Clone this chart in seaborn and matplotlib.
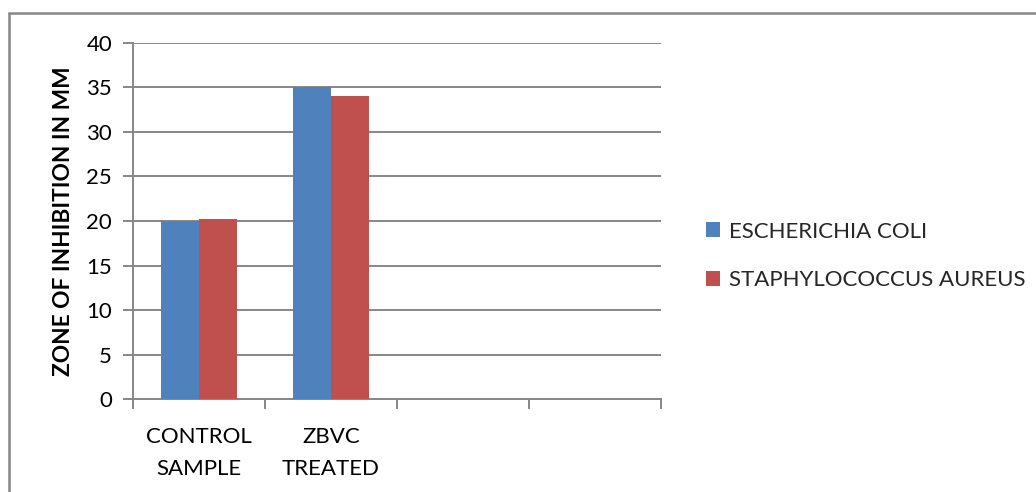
import matplotlib
matplotlib.use("Agg")
import matplotlib.pyplot as plt
from matplotlib.lines import Line2D
from matplotlib.patches import Patch
import seaborn as sns
import pandas as pd

# Zone of inhibition (mm) per sample and organism
categories = ["CONTROL\nSAMPLE", "ZBVC\nTREATED", " ", "  "]
samples = ["CONTROL\nSAMPLE", "ZBVC\nTREATED"]
e_coli = [20.0, 35.0]
s_aureus = [20.2, 34.0]
series_names = ["ESCHERICHIA COLI", "STAPHYLOCOCCUS AUREUS"]
series_colors = ["#4F81BD", "#C0504D"]
y_ticks = [0, 5, 10, 15, 20, 25, 30, 35, 40]

df = pd.DataFrame({
    "sample": samples * 2,
    "organism": [series_names[0]] * len(samples) + [series_names[1]] * len(samples),
    "zone": e_coli + s_aureus,
})

sns.set_theme(style="white")
plt.rcParams["font.family"] = ["Lato", "DejaVu Sans"]

W, H = 1036, 492
fig = plt.figure(figsize=(W / 100, H / 100), dpi=100)
ax = fig.add_axes([133 / W, 1 - 399.3 / H, 528 / W, 356.6 / H])

grid_c = "#878787"
sns.barplot(data=df, x="sample", y="zone", hue="organism", order=categories,
            hue_order=series_names, palette=series_colors, width=0.57,
            saturation=1, errorbar=None, ax=ax, legend=False, zorder=3,
            linewidth=0)

ax.set_xlim(-0.5, len(categories) - 0.5)
ax.set_ylim(0, 40)
ax.set_yticks(y_ticks)
ax.set_yticklabels([str(v) for v in y_ticks], fontsize=16, color="#000000")
ax.yaxis.grid(True, color=grid_c, linewidth=1.4, zorder=0)
ax.set_axisbelow(True)

# category labels at centres, tick marks at category boundaries
ax.set_xticks(range(len(categories)))
ax.set_xticklabels(categories, fontsize=16, color="#000000", linespacing=1.75)
ax.tick_params(axis="x", which="major", length=0, pad=20)
ax.set_xticks([i - 0.5 for i in range(len(categories) + 1)], minor=True)
ax.tick_params(axis="x", which="minor", length=7, width=1.4, color=grid_c,
               direction="out", bottom=True)
ax.tick_params(axis="y", which="major", length=7, width=1.4, color=grid_c,
               direction="out", left=True, pad=8)

for side in ["top", "right"]:
    ax.spines[side].set_visible(False)
for side in ["left", "bottom"]:
    ax.spines[side].set_color(grid_c)
    ax.spines[side].set_linewidth(1.4)

ax.set_xlabel("")
ax.set_ylabel("ZONE OF INHIBITION IN MM", fontsize=16.3, fontweight="bold",
              color="#000000", labelpad=9)

handles = [Patch(facecolor=c, edgecolor="none") for c in series_colors]
fig.legend(handles, series_names, loc="center left",
           bbox_to_anchor=(686 / W, 1 - 256 / H), frameon=False,
           fontsize=16, handlelength=0.65, handleheight=0.65,
           handletextpad=0.4, labelspacing=1.3)

# outer chart-area border (top and left edges)
fig.add_artist(Line2D([9 / W, 1], [1 - 13 / H, 1 - 13 / H], color=grid_c,
                      linewidth=1.8, transform=fig.transFigure))
fig.add_artist(Line2D([9 / W, 9 / W], [0, 1 - 13 / H], color=grid_c,
                      linewidth=1.8, transform=fig.transFigure))

fig.savefig("out.png", dpi=100, facecolor="white")
